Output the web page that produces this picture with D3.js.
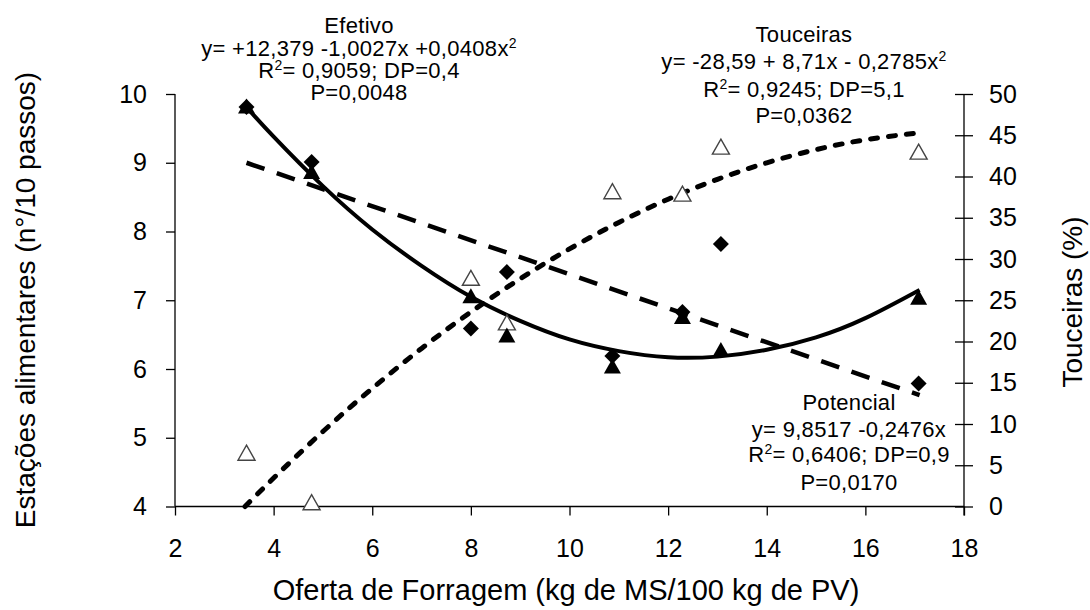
<!DOCTYPE html>
<html>
<head>
<meta charset="utf-8">
<script src="https://cdn.jsdelivr.net/npm/d3@7"></script>
<style>
  html, body { margin: 0; padding: 0; background: #fff; }
  svg text { font-family: "Liberation Sans", Arial, sans-serif; fill: #000; }
</style>
</head>
<body>
<svg id="chart" width="1090" height="610"></svg>
<script>
// Forage allowance (kg DM / 100 kg LW) for each paddock
const oferta = [3.45, 4.77, 8.0, 8.73, 10.87, 12.29, 13.07, 17.08];
// Effective feeding stations (n°/10 steps)
const efetivo = [9.81, 8.86, 7.05, 6.48, 6.03, 6.75, 6.27, 7.03];
// Potential feeding stations (n°/10 steps)
const potencial = [9.81, 9.01, 6.59, 7.41, 6.19, 6.83, 7.82, 5.79];
// Tussock cover (%)
const touceiras = [6.4, 0.4, 27.6, 22.2, 38.1, 37.8, 43.5, 42.9];

// Fitted trend lines, sampled along the forage allowance axis
const efetivoFitX = [3.45, 4, 5, 6, 7, 8, 9, 10, 11, 12, 13, 14, 15, 16, 17.1];
const efetivoFitY = [9.81, 9.38, 8.66, 8.03, 7.50, 7.05, 6.70, 6.43, 6.26, 6.17, 6.18, 6.28, 6.46, 6.74, 7.15];
const potencialFitX = [3.45, 17.1];
const potencialFitY = [9.0, 5.62];
const touceirasFitX = [3.42, 4, 5, 6, 7, 8, 9, 10, 11, 12, 13, 14, 15, 16, 17.1];
const touceirasFitY = [0, 3.45, 9.09, 14.32, 19.16, 23.58, 27.61, 31.22, 34.43, 37.25, 39.66, 41.66, 43.26, 44.45, 45.3];

// Axis ticks
const xTicks = [2, 4, 6, 8, 10, 12, 14, 16, 18];
const yLeftTicks = [4, 5, 6, 7, 8, 9, 10];
const yRightTicks = [0, 5, 10, 15, 20, 25, 30, 35, 40, 45, 50];

const svg = d3.select("#chart");
const plotLeft = 175, plotRight = 964, plotTop = 94, plotBottom = 506.5;

const x = d3.scaleLinear().domain([2, 18]).range([plotLeft, plotRight]);
const yL = d3.scaleLinear().domain([4, 10]).range([plotBottom, plotTop]);
const yR = d3.scaleLinear().domain([0, 50]).range([plotBottom, plotTop]);

const tickFont = 25;

// Bottom axis
const gx = svg.append("g").attr("transform", `translate(0,${plotBottom})`)
  .call(d3.axisBottom(x).tickValues(xTicks).tickSize(9).tickSizeOuter(0).tickPadding(24).tickFormat(d3.format("d")));
// Left axis
const gl = svg.append("g").attr("transform", `translate(${plotLeft},0)`)
  .call(d3.axisLeft(yL).tickValues(yLeftTicks).tickSize(9).tickSizeOuter(0).tickPadding(19).tickFormat(d3.format("d")));
// Right axis (ticks cross the line)
const gr = svg.append("g").attr("transform", `translate(${plotRight},0)`)
  .call(d3.axisRight(yR).tickValues(yRightTicks).tickSize(9).tickSizeOuter(0).tickPadding(16).tickFormat(d3.format("d")));
gr.selectAll(".tick line").attr("x1", -9).attr("x2", 9);

[gx, gl, gr].forEach(g => {
  g.select(".domain").remove();
  g.selectAll(".tick line").attr("stroke", "#000").attr("stroke-width", 1.3);
  g.selectAll(".tick text").attr("font-size", tickFont).attr("fill", "#000")
    .style("font-family", "'Liberation Sans', Arial, sans-serif");
});

// Axis lines
svg.append("line").attr("x1", plotLeft).attr("x2", plotRight).attr("y1", plotBottom).attr("y2", plotBottom)
  .attr("stroke", "#000").attr("stroke-width", 1.3);
svg.append("line").attr("x1", plotLeft).attr("x2", plotLeft).attr("y1", plotTop).attr("y2", plotBottom)
  .attr("stroke", "#000").attr("stroke-width", 1.3);
svg.append("line").attr("x1", plotRight).attr("x2", plotRight).attr("y1", plotTop).attr("y2", plotBottom + 9)
  .attr("stroke", "#000").attr("stroke-width", 1.3);

// Axis titles
svg.append("text").attr("x", 566).attr("y", 600)
  .attr("text-anchor", "middle").attr("font-size", 29)
  .text("Oferta de Forragem (kg de MS/100 kg de PV)");
svg.append("text").attr("transform", "translate(35,300) rotate(-90)")
  .attr("text-anchor", "middle").attr("font-size", 28)
  .text("Estações alimentares (n°/10 passos)");
svg.append("text").attr("transform", "translate(1082,302) rotate(-90)")
  .attr("text-anchor", "middle").attr("font-size", 28)
  .text("Touceiras (%)");

// Trend lines
const lineL = d3.line().x(d => x(d[0])).y(d => yL(d[1])).curve(d3.curveNatural);
const lineR = d3.line().x(d => x(d[0])).y(d => yR(d[1])).curve(d3.curveNatural);

svg.append("path").datum(d3.zip(potencialFitX, potencialFitY))
  .attr("d", d3.line().x(d => x(d[0])).y(d => yL(d[1])))
  .attr("fill", "none").attr("stroke", "#000").attr("stroke-width", 4.5)
  .attr("stroke-dasharray", "19,13");

svg.append("path").datum(d3.zip(efetivoFitX, efetivoFitY))
  .attr("d", lineL)
  .attr("fill", "none").attr("stroke", "#000").attr("stroke-width", 4);

svg.append("path").datum(d3.zip(touceirasFitX, touceirasFitY))
  .attr("d", lineR)
  .attr("fill", "none").attr("stroke", "#000").attr("stroke-width", 5)
  .attr("stroke-linecap", "round").attr("stroke-dasharray", "7,11");

// Markers
const triPath = "M0,-8.5L8.5,6.5L-8.5,6.5Z";
const diaPath = "M0,-8L8,0L0,8L-8,0Z";

svg.append("g").selectAll("path").data(d3.zip(oferta, touceiras)).join("path")
  .attr("transform", d => `translate(${x(d[0])},${yR(d[1])})`)
  .attr("d", triPath).attr("fill", "#fff").attr("stroke", "#444").attr("stroke-width", 1.4);

svg.append("g").selectAll("path").data(d3.zip(oferta, potencial)).join("path")
  .attr("transform", d => `translate(${x(d[0])},${yL(d[1])})`)
  .attr("d", diaPath).attr("fill", "#000");

svg.append("g").selectAll("path").data(d3.zip(oferta, efetivo)).join("path")
  .attr("transform", d => `translate(${x(d[0])},${yL(d[1])})`)
  .attr("d", triPath).attr("fill", "#000");

// Equation annotations: each line is an array of [text, superscript?] pieces
function block(cx, baselines, lines) {
  lines.forEach((parts, i) => {
    const t = svg.append("text").attr("x", cx).attr("y", baselines[i])
      .attr("text-anchor", "middle").attr("font-size", 22).attr("letter-spacing", 0.3);
    let raised = false;
    parts.forEach(([s, sup]) => {
      const sp = t.append("tspan").text(s);
      if (sup && !raised) { sp.attr("dy", -8).attr("font-size", 14); raised = true; }
      else if (!sup && raised) { sp.attr("dy", 8); raised = false; }
    });
  });
}

block(359, [33, 55.5, 78, 100], [
  [["Efetivo"]],
  [["y= +12,379 -1,0027x +0,0408x"], ["2", true]],
  [["R"], ["2", true], ["= 0,9059; DP=0,4"]],
  [["P=0,0048"]]
]);

block(804, [42, 69, 96.5, 123], [
  [["Touceiras"]],
  [["y= -28,59 + 8,71x - 0,2785x"], ["2", true]],
  [["R"], ["2", true], ["= 0,9245; DP=5,1"]],
  [["P=0,0362"]]
]);

block(849, [410, 436.5, 462, 490], [
  [["Potencial"]],
  [["y= 9,8517 -0,2476x"]],
  [["R"], ["2", true], ["= 0,6406; DP=0,9"]],
  [["P=0,0170"]]
]);
</script>
</body>
</html>
